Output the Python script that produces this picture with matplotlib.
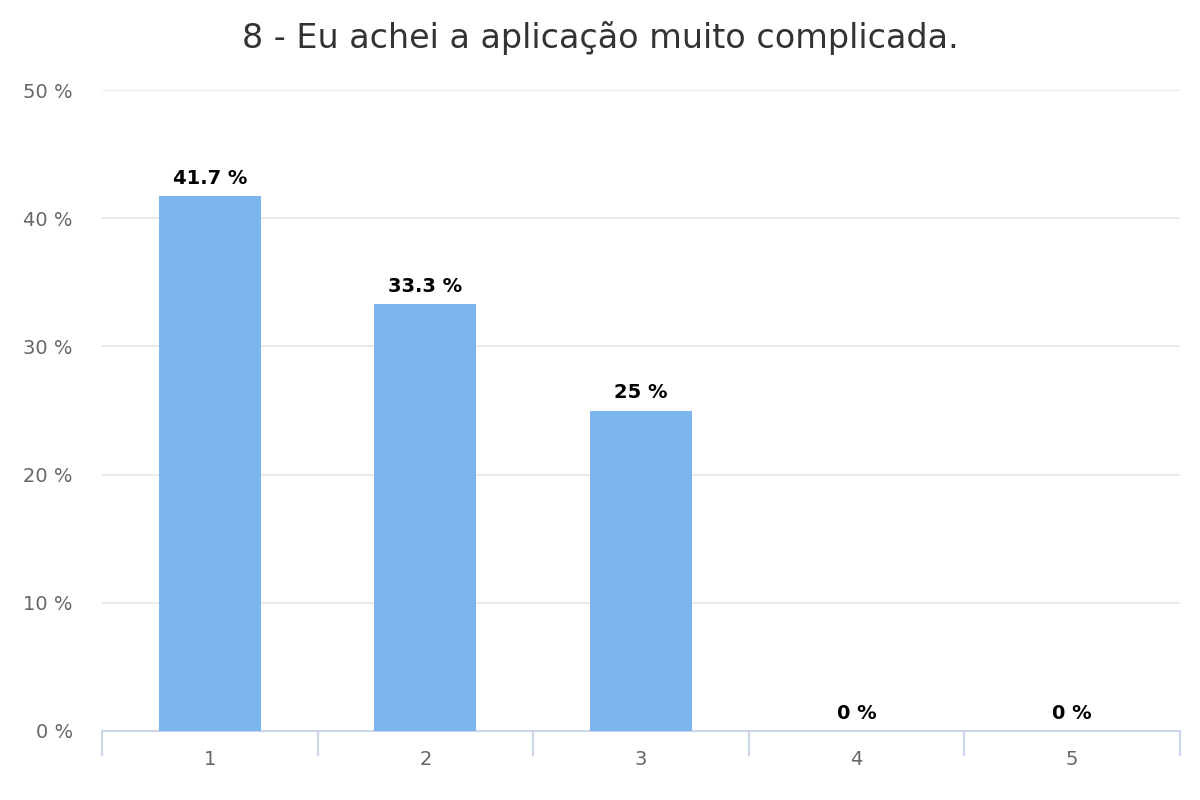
import numpy as np
import matplotlib.pyplot as plt

categories = ["1", "2", "3", "4", "5"]
values = [41.7, 33.3, 25, 0, 0]
labels = ["41.7 %", "33.3 %", "25 %", "0 %", "0 %"]
y_ticks = [0, 10, 20, 30, 40, 50]

plt.rcParams['font.family'] = ['DejaVu Sans']

fig = plt.figure(figsize=(12, 8), dpi=100)
ax = fig.add_axes([102 / 1200, 1 - 731 / 800, 1078 / 1200, 641 / 800])

x = np.arange(len(categories))
ax.bar(x, values, width=0.473, color='#7cb5ec', zorder=3)

for xi, v, lab in zip(x, values, labels):
    ax.annotate(lab, (xi, v), xytext=(0, 6), textcoords='offset points',
                ha='center', va='bottom', fontsize=14, fontweight='bold', color='black')

ax.set_xlim(-0.5, 4.5)
ax.set_ylim(0, 50)
ax.set_yticks(y_ticks)
ax.set_yticklabels(["%d %%" % t for t in y_ticks])
ax.grid(axis='y', color='#e6e6e6', linewidth=1.2, zorder=0)

# category ticks sit on the boundaries
ax.set_xticks(x)
ax.set_xticklabels(categories)
ax.set_xticks(np.arange(-0.5, 5, 1), minor=True)
ax.tick_params(axis='x', which='major', length=0, pad=14, labelsize=14, labelcolor='#666666')
ax.tick_params(axis='x', which='minor', length=18, width=1.5, color='#ccd6eb')
ax.tick_params(axis='y', length=0, pad=21, labelsize=14, labelcolor='#666666')

for s in ['top', 'right', 'left']:
    ax.spines[s].set_visible(False)
ax.spines['bottom'].set_color('#ccd6eb')
ax.spines['bottom'].set_linewidth(1.5)

fig.text(0.5, 1 - 38 / 800, "8 - Eu achei a aplicação muito complicada.",
         ha='center', va='center', fontsize=24, color='#333333')

fig.savefig("out.png")
